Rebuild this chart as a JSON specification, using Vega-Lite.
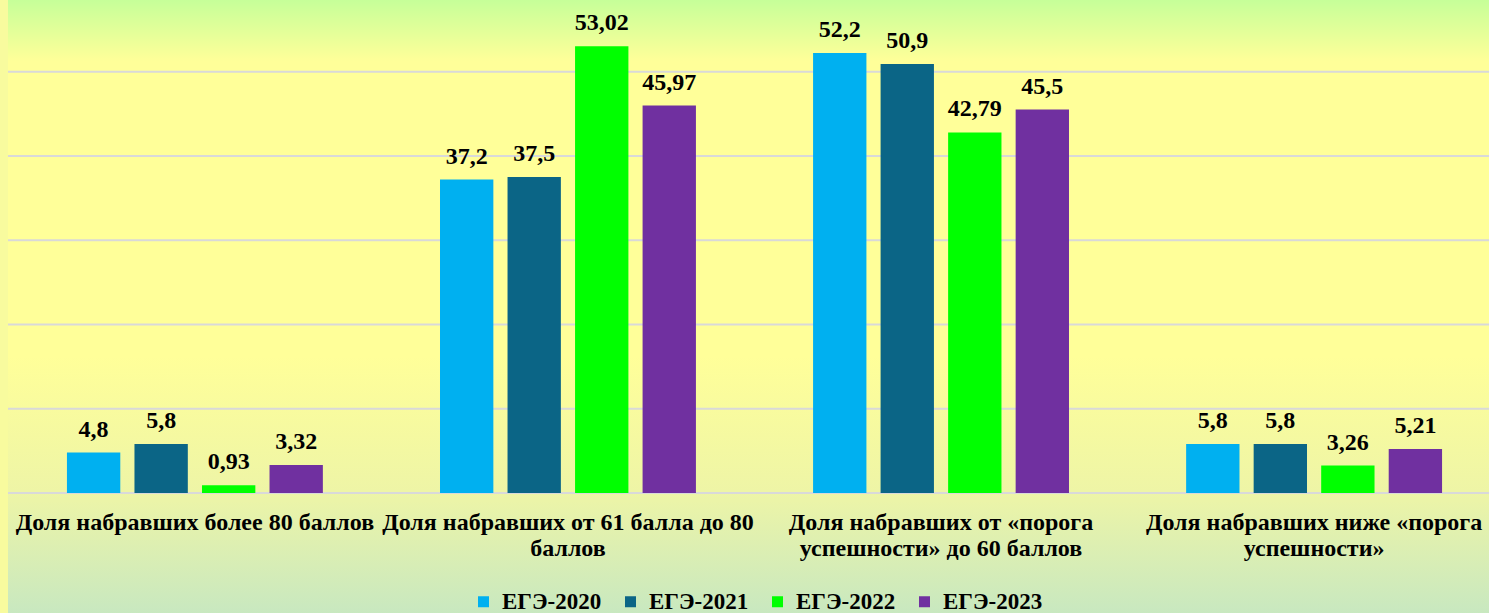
{
  "$schema": "https://vega.github.io/schema/vega-lite/v6.json",
  "autosize": {"type": "none"},
  "width": 1481,
  "height": 493,
  "padding": {"left": 8, "top": 0, "right": 0, "bottom": 120},
  "background": "#f8fb9e",
  "config": {
    "locale": {"number": {"decimal": ",", "thousands": " ", "grouping": [3], "currency": ["", ""]}},
    "view": {"stroke": null},
    "font": "Liberation Serif"
  },
  "data": {
    "values": [
      {"category": "Доля набравших более 80 баллов", "series": "ЕГЭ-2020", "value": 4.8},
      {"category": "Доля набравших более 80 баллов", "series": "ЕГЭ-2021", "value": 5.8},
      {"category": "Доля набравших более 80 баллов", "series": "ЕГЭ-2022", "value": 0.93},
      {"category": "Доля набравших более 80 баллов", "series": "ЕГЭ-2023", "value": 3.32},
      {"category": "Доля набравших от 61 балла до 80|баллов", "series": "ЕГЭ-2020", "value": 37.2},
      {"category": "Доля набравших от 61 балла до 80|баллов", "series": "ЕГЭ-2021", "value": 37.5},
      {"category": "Доля набравших от 61 балла до 80|баллов", "series": "ЕГЭ-2022", "value": 53.02},
      {"category": "Доля набравших от 61 балла до 80|баллов", "series": "ЕГЭ-2023", "value": 45.97},
      {"category": "Доля набравших от «порога|успешности» до 60 баллов", "series": "ЕГЭ-2020", "value": 52.2},
      {"category": "Доля набравших от «порога|успешности» до 60 баллов", "series": "ЕГЭ-2021", "value": 50.9},
      {"category": "Доля набравших от «порога|успешности» до 60 баллов", "series": "ЕГЭ-2022", "value": 42.79},
      {"category": "Доля набравших от «порога|успешности» до 60 баллов", "series": "ЕГЭ-2023", "value": 45.5},
      {"category": "Доля набравших ниже «порога|успешности»", "series": "ЕГЭ-2020", "value": 5.8},
      {"category": "Доля набравших ниже «порога|успешности»", "series": "ЕГЭ-2021", "value": 5.8},
      {"category": "Доля набравших ниже «порога|успешности»", "series": "ЕГЭ-2022", "value": 3.26},
      {"category": "Доля набравших ниже «порога|успешности»", "series": "ЕГЭ-2023", "value": 5.21}
    ]
  },
  "layer": [
    {
      "data": {"values": [{"top": 58.5, "bottom": -14.3}]},
      "mark": {
        "type": "rect",
        "clip": false,
        "fill": {
          "gradient": "linear",
          "x1": 0, "y1": 0, "x2": 0, "y2": 1,
          "stops": [
            {"offset": 0, "color": "#c6ff99"},
            {"offset": 0.1, "color": "#ffff99"},
            {"offset": 0.58, "color": "#ffff99"},
            {"offset": 0.8, "color": "#eef5a6"},
            {"offset": 1, "color": "#c8e8c0"}
          ]
        }
      },
      "encoding": {
        "y": {"field": "top", "type": "quantitative", "scale": {"domain": [0, 58.5], "nice": false, "zero": false}, "axis": null},
        "y2": {"field": "bottom"}
      }
    },
    {
      "data": {"values": [{"v": 0}, {"v": 10}, {"v": 20}, {"v": 30}, {"v": 40}, {"v": 50}]},
      "mark": {"type": "rule", "color": "#d9d9d9", "strokeWidth": 2},
      "encoding": {
        "y": {"field": "v", "type": "quantitative", "axis": null}
      }
    },
    {
      "mark": {"type": "bar"},
      "encoding": {
        "x": {
          "field": "category", "type": "nominal", "sort": null,
          "scale": {"range": [0, 1493], "paddingInner": 0.314, "paddingOuter": 0.158},
          "axis": {
            "title": null, "ticks": false, "domain": false, "labelAngle": 0, "zindex": 1,
            "labelExpr": "split(datum.value, '|')",
            "labelFont": "Liberation Serif", "labelFontWeight": "bold", "labelFontSize": 24,
            "labelColor": "#000000", "labelPadding": 17, "labelLineHeight": 26, "labelLimit": 0,
            "labelBaseline": "top"
          }
        },
        "xOffset": {"field": "series", "type": "nominal", "scale": {"paddingInner": 0.21, "paddingOuter": 0}},
        "y": {
          "field": "value", "type": "quantitative",
          "scale": {"domain": [0, 58.5], "nice": false},
          "axis": null
        },
        "color": {
          "field": "series", "type": "nominal",
          "scale": {"domain": ["ЕГЭ-2020", "ЕГЭ-2021", "ЕГЭ-2022", "ЕГЭ-2023"], "range": ["#00b0f0", "#0b6586", "#00ff00", "#7030a0"]},
          "legend": {
            "title": null, "orient": "none", "direction": "horizontal",
            "legendX": 464, "legendY": 590,
            "symbolType": "square", "symbolSize": 121, "symbolStrokeWidth": 0,
            "labelFont": "Liberation Serif", "labelFontWeight": "bold", "labelFontSize": 23,
            "labelColor": "#000000", "labelOffset": 7, "columnPadding": 17
          }
        }
      }
    },
    {
      "mark": {"type": "text", "fontWeight": "bold", "fontSize": 24, "font": "Liberation Serif", "baseline": "alphabetic", "dy": -16, "color": "#000000"},
      "encoding": {
        "x": {"field": "category", "type": "nominal", "sort": null},
        "xOffset": {"field": "series", "type": "nominal"},
        "y": {"field": "value", "type": "quantitative", "axis": null},
        "text": {"field": "value", "type": "quantitative", "format": "~g"}
      }
    }
  ]
}
